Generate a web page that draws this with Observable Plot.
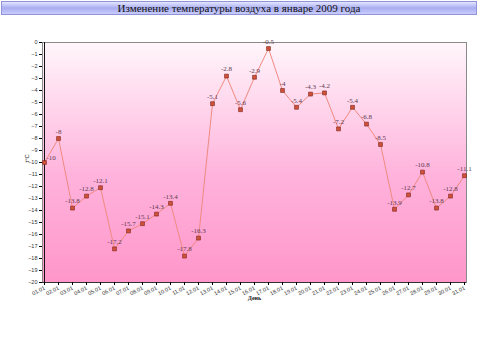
<!DOCTYPE html>
<html><head><meta charset="utf-8">
<script src="https://cdn.jsdelivr.net/npm/d3@7"></script>
<script src="https://cdn.jsdelivr.net/npm/@observablehq/plot@0.6"></script>
<style>
body{margin:0;background:#fff;width:480px;height:352px;overflow:hidden;}
#title{position:absolute;left:1px;top:1px;width:476px;height:14px;box-sizing:border-box;border:1px solid #8f93d8;
background:linear-gradient(#e4e6ff,#a9adf2 50%,#c9ccfa);font:11px "Liberation Serif",serif;text-align:center;line-height:12px;color:#111;}
#chart{position:absolute;left:0;top:0;}
</style></head><body>
<div id="chart"></div>
<div id="title">Изменение температуры воздуха в январе 2009 года</div>
<script>
const days = ["01.01","02.01","03.01","04.01","05.01","06.01","07.01","08.01","09.01","10.01","11.01","12.01","13.01","14.01","15.01","16.01","17.01","18.01","19.01","20.01","21.01","22.01","23.01","24.01","25.01","26.01","27.01","28.01","29.01","30.01","31.01"];
const temps = [-10,-8,-13.8,-12.8,-12.1,-17.2,-15.7,-15.1,-14.3,-13.4,-17.8,-16.3,-5.1,-2.8,-5.6,-2.9,-0.5,-4,-5.4,-4.3,-4.2,-7.2,-5.4,-6.8,-8.5,-13.9,-12.7,-10.8,-13.8,-12.8,-11.1];
const yTicks = d3.range(0,-21,-1);
const data = days.map((d,i)=>({day:d,t:temps[i]}));

const defs = () => {
  const g = d3.create("svg:defs");
  const lg = g.append("linearGradient").attr("id","bg").attr("x1",0).attr("y1",0).attr("x2",0).attr("y2",1);
  lg.append("stop").attr("offset","0%").attr("stop-color","#fff6fb");
  lg.append("stop").attr("offset","55%").attr("stop-color","#ffb3dc");
  lg.append("stop").attr("offset","100%").attr("stop-color","#ff96ca");
  return g.node();
};

const chart = Plot.plot({
  width:480, height:352,
  marginLeft:42, marginRight:14, marginTop:42, marginBottom:70,
  style:{fontFamily:"Liberation Sans, sans-serif", background:"transparent"},
  x:{type:"point", domain:days, padding:0},
  y:{domain:[-20,0]},
  marks:[
    defs,
    Plot.frame({fill:"url(#bg)", stroke:"#8a8a8a"}),
    Plot.ruleX([days[0]],{stroke:"#111"}),
    Plot.ruleY([-20],{stroke:"#333"}),
    Plot.axisY(yTicks,{tickSize:3, tickPadding:2, fontSize:5.5, fill:"#333", label:null}),
    Plot.axisX(days,{tickSize:3, tickPadding:2, fontSize:5.5, fill:"#333", tickRotate:-28, label:null}),
    Plot.text(["t°C"],{frameAnchor:"left", dx:-15, rotate:-90, fontSize:6, fill:"#222"}),
    Plot.text(["День"],{frameAnchor:"bottom", dy:17, fontSize:6, fill:"#222", fontFamily:"Liberation Serif, serif", fontWeight:"bold"}),
    Plot.line(data,{x:"day", y:"t", stroke:"#f08a80", strokeWidth:1}),
    Plot.dot(data,{x:"day", y:"t", symbol:"square", r:2.2, fill:"#d0523c", stroke:"#7a2418", strokeWidth:0.6}),
    Plot.text(data.slice(1),{x:"day", y:"t", text:d=>String(d.t), dy:-7, fontSize:7, fill:"#5a3a50", fontFamily:"Liberation Serif, serif"}),
    Plot.text(data.slice(0,1),{x:"day", y:"t", text:d=>String(d.t), dx:2, dy:-5, textAnchor:"start", fontSize:7, fill:"#5a3a50", fontFamily:"Liberation Serif, serif"})
  ]
});
document.getElementById("chart").append(chart);
</script></body></html>
